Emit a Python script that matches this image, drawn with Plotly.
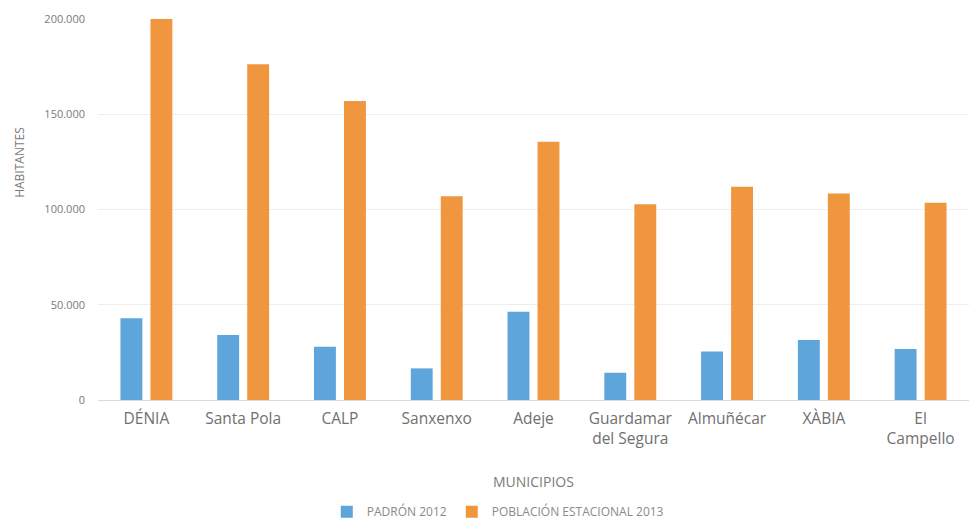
import plotly.graph_objects as go

categories = ["DÉNIA", "Santa Pola", "CALP", "Sanxenxo", "Adeje",
              "Guardamar<br>del Segura", "Almuñécar", "XÀBIA", "El<br>Campello"]
padron_2012 = [42900, 34100, 28000, 16600, 46300, 14300, 25400, 31500, 26800]
poblacion_estacional_2013 = [201000, 176300, 156900, 107000, 135500, 102800, 111900, 108400, 103500]
y_ticks = [0, 50000, 100000, 150000, 200000]

blue = "#5DA5DB"
orange = "#F0963F"
grey = "#7F7F7F"
font = "Open Sans"

fig = go.Figure()
fig.add_trace(go.Bar(name="PADRÓN 2012", x=categories, y=padron_2012,
                     marker=dict(color=blue, line=dict(width=0))))
fig.add_trace(go.Bar(name="POBLACIÓN ESTACIONAL 2013", x=categories, y=poblacion_estacional_2013,
                     marker=dict(color=orange, line=dict(width=0))))

fig.update_layout(
    width=962, height=515,
    margin=dict(l=90, r=1, t=11, b=123, autoexpand=False),
    paper_bgcolor="white", plot_bgcolor="white",
    separators=",.",
    barmode="group", bargap=0.38, bargroupgap=0.27,
    font=dict(family=font, color=grey),
    showlegend=True,
    legend=dict(orientation="h", x=0.459, xanchor="center", y=-0.293, yanchor="middle",
                font=dict(size=12, color="#8A8A8A"), itemwidth=30, tracegroupgap=0),
)
fig.update_xaxes(showgrid=False, showline=True, linecolor="#D9D9D9", linewidth=1,
                 ticks="", ticklabelstandoff=4, tickfont=dict(size=15.5, color="#707070"))
fig.update_yaxes(range=[0, 200000], tickvals=y_ticks, tickformat=",d",
                 showgrid=True, gridcolor="#EEEEEE", gridwidth=1, zeroline=False,
                 showline=False, ticks="", ticklabelstandoff=12,
                 tickfont=dict(size=11, color="#7A7A7A"))

fig.add_annotation(text="HABITANTES", xref="paper", yref="paper", x=-0.0896, y=0.625,
                   xanchor="center", yanchor="middle",
                   textangle=-90, showarrow=False, font=dict(size=12, color="#7A7A7A"))
fig.add_annotation(text="MUNICIPIOS", xref="paper", yref="paper", x=0.5, y=-0.2126,
                   xanchor="center", yanchor="middle", showarrow=False,
                   font=dict(size=14, color="#7A7A7A"))

fig.write_html("out.html")
